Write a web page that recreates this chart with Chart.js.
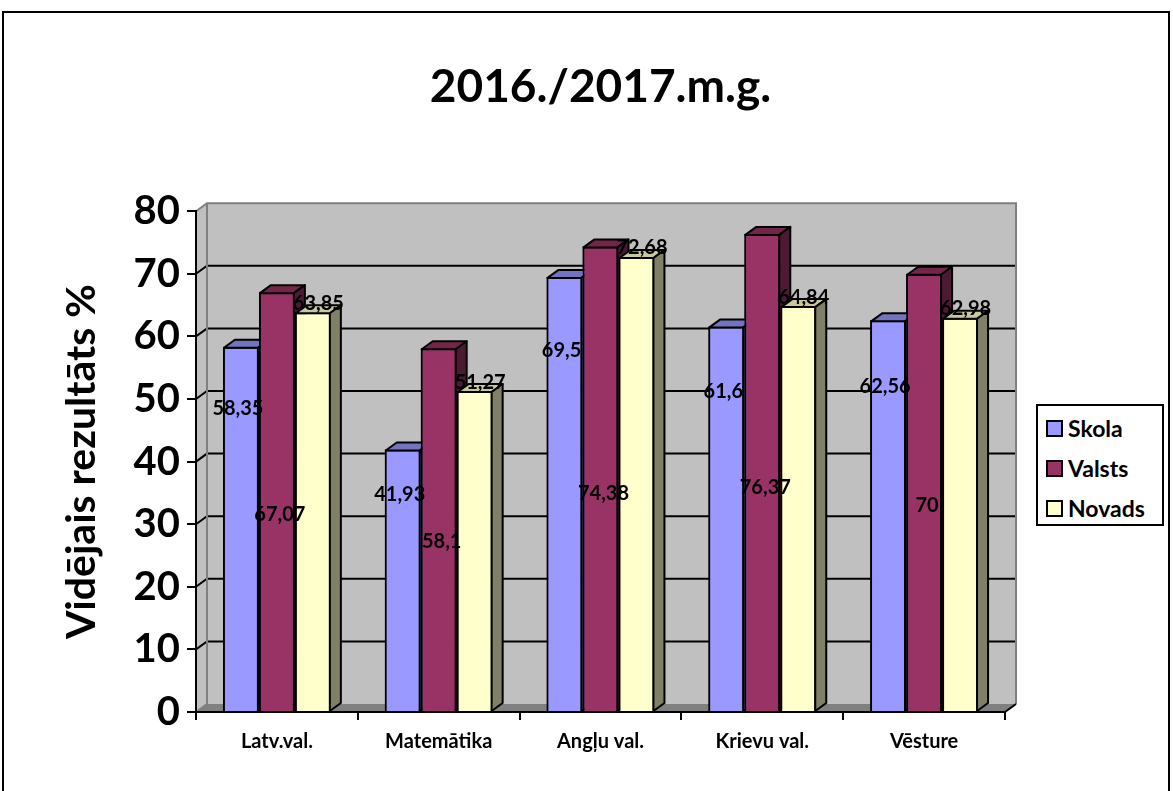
<!DOCTYPE html>
<html>
<head>
<meta charset="utf-8">
<title>2016./2017.m.g.</title>
<script src="https://cdn.jsdelivr.net/npm/chart.js@4.4.1/dist/chart.umd.min.js"></script>
<style>
    html, body { margin: 0; padding: 0; background: #fff; }
    body { width: 1173px; height: 791px; position: relative; overflow: hidden; font-family: Lato, sans-serif; }
    #frame  { position: absolute; left: 2px; top: 11px; width: 1164px; height: 800px; border: 2px solid #000; }
    #chart  { position: absolute; left: 0; top: 0; }
    #legend { position: absolute; left: 1036px; top: 404px; width: 124px; height: 118px; border: 2px solid #000; background: #fff; }
    .item   { position: absolute; left: 8px; height: 26px; display: flex; align-items: center; font-weight: bold; font-size: 23px; color: #000; }
    .sw     { width: 13px; height: 13px; border: 2px solid #000; margin-right: 5px; }
</style>
</head>
<body>
<div id="frame"></div>
<canvas id="chart" width="1173" height="791"></canvas>
<div id="legend"></div>

<script>
// ── Dati ─────────────────────────────────
const kategorijas = ['Latv.val.', 'Matemātika', 'Angļu val.', 'Krievu val.', 'Vēsture'];
const skola  = [58.35, 41.93, 69.5, 61.6, 62.56];
const valsts = [67.07, 58.1, 74.38, 76.37, 70];
const novads = [63.85, 51.27, 72.68, 64.84, 62.98];
const yMin = 0, yMax = 80, yStep = 10;

// 3D nobīde (px)
const DX = 11, DY = 8;

const serijas = [
    { label: 'Skola',  data: skola,  front: '#9999ff', top: '#7373bf', side: '#4d4d80' },
    { label: 'Valsts', data: valsts, front: '#993366', top: '#732649', side: '#4d1a33' },
    { label: 'Novads', data: novads, front: '#ffffcc', top: '#c8c89c', side: '#808066' }
];

function fmt(v) { return String(v).replace('.', ','); }

// ── Sienas, grīda un režģis ──────────────
const sienas = {
    id: 'sienas',
    beforeDraw(chart) {
        const { ctx, chartArea: a, scales: { y } } = chart;
        const L = a.left, R = a.right;
        const B = y.getPixelForValue(yMin), T = y.getPixelForValue(yMax);
        ctx.save();
        ctx.fillStyle = '#c0c0c0';
        ctx.fillRect(L + DX, T - DY, R - L, B - T);
        ctx.beginPath();
        ctx.moveTo(L, T); ctx.lineTo(L + DX, T - DY); ctx.lineTo(L + DX, B - DY); ctx.lineTo(L, B);
        ctx.closePath(); ctx.fill();

        ctx.fillStyle = '#808080';
        ctx.beginPath();
        ctx.moveTo(L, B); ctx.lineTo(L + DX, B - DY); ctx.lineTo(R + DX, B - DY); ctx.lineTo(R, B);
        ctx.closePath(); ctx.fill();

        ctx.strokeStyle = '#000';
        ctx.lineWidth = 2;
        for (let v = yMin + yStep; v < yMax; v += yStep) {
            const py = y.getPixelForValue(v);
            ctx.beginPath();
            ctx.moveTo(L, py); ctx.lineTo(L + DX, py - DY); ctx.lineTo(R + DX, py - DY);
            ctx.stroke();
        }

        ctx.strokeStyle = '#808080';
        ctx.beginPath();
        ctx.moveTo(L, T); ctx.lineTo(L + DX, T - DY); ctx.lineTo(R + DX, T - DY); ctx.lineTo(R + DX, B - DY);
        ctx.moveTo(L + DX, T - DY); ctx.lineTo(L + DX, B - DY);
        ctx.moveTo(L, B); ctx.lineTo(L + DX, B - DY);
        ctx.stroke();

        ctx.strokeStyle = '#000';
        ctx.beginPath();
        ctx.moveTo(R, B); ctx.lineTo(R + DX, B - DY);
        ctx.stroke();
        ctx.restore();
    }
};

// ── 3D stabiņi + vērtību etiķetes ────────
const kubi = {
    id: 'kubi',
    afterDatasetsDraw(chart) {
        const ctx = chart.ctx;
        // zīmē no kreisās uz labo, lai nākamā stabiņa priekšpuse aizsedz iepriekšējā sānu
        chart.data.datasets.forEach((ds, i) => {
            const s = serijas[i];
            chart.getDatasetMeta(i).data.forEach(el => {
                el.draw(ctx);
                const p = el.getProps(['x', 'y', 'base', 'width'], true);
                const x1 = p.x - p.width / 2 + 1, x2 = p.x + p.width / 2 - 1;
                const t = p.y + 1, b = p.base;
                ctx.save();
                ctx.lineWidth = 2;
                ctx.strokeStyle = '#000';
                ctx.lineJoin = 'round';
                ctx.fillStyle = s.top;
                ctx.beginPath();
                ctx.moveTo(x1, t); ctx.lineTo(x1 + DX, t - DY); ctx.lineTo(x2 + DX, t - DY); ctx.lineTo(x2, t);
                ctx.closePath(); ctx.fill(); ctx.stroke();
                ctx.fillStyle = s.side;
                ctx.beginPath();
                ctx.moveTo(x2, t); ctx.lineTo(x2 + DX, t - DY); ctx.lineTo(x2 + DX, b - DY); ctx.lineTo(x2, b);
                ctx.closePath(); ctx.fill(); ctx.stroke();
                ctx.restore();
            });
        });

        const y = chart.scales.y;
        ctx.save();
        ctx.font = 'bold 20px Lato';
        ctx.fillStyle = '#000';
        ctx.textAlign = 'center';
        ctx.textBaseline = 'middle';
        chart.data.datasets.forEach((ds, i) => {
            chart.getDatasetMeta(i).data.forEach((el, j) => {
                const v = ds.data[j];
                let lx = el.x, ly;
                if (i === 0)      { ly = y.getPixelForValue(v * 0.83); lx -= 3; }
                else if (i === 1) { ly = y.getPixelForValue(v * 0.47); lx += 3; }
                else              { ly = el.y - DY / 2 - 5; lx += DX / 2; }
                ctx.fillText(fmt(v), lx, ly);
            });
        });
        ctx.restore();
    }
};

Chart.defaults.font.family = 'Lato';
Chart.defaults.color = '#000';

new Chart(document.getElementById('chart'), {
    type: 'bar',
    data: {
        labels: kategorijas,
        datasets: serijas.map(s => ({
            label: s.label,
            data: s.data,
            backgroundColor: s.front,
            borderColor: '#000',
            borderWidth: 2,
            barPercentage: 1,
            categoryPercentage: 0.667
        }))
    },
    options: {
        responsive: false,
        animation: false,
        devicePixelRatio: 1,
        layout: { padding: { left: 0, right: 168, top: 0, bottom: 0 } },
        plugins: {
            legend: { display: false },
            tooltip: { enabled: false },
            title: {
                display: true,
                fullSize: false,
                text: '2016./2017.m.g.',
                color: '#000',
                font: { size: 46, weight: 'bold' },
                padding: { top: 60, bottom: 96 }
            }
        },
        scales: {
            x: {
                grid: { offset: true, drawOnChartArea: false, drawTicks: true, tickLength: 8, color: '#000', lineWidth: 2 },
                border: { display: true, color: '#000', width: 2 },
                ticks: { font: { size: 20, weight: 'bold' }, color: '#000', padding: 10, maxRotation: 0, autoSkip: false },
                afterFit(scale) { scale.height = 79; }
            },
            y: {
                min: yMin,
                max: yMax,
                grid: { drawOnChartArea: false, drawTicks: true, tickLength: 9, color: '#000', lineWidth: 2 },
                border: { display: true, color: '#000', width: 2 },
                ticks: { stepSize: yStep, font: { size: 40, weight: 'bold' }, color: '#000', padding: 7 },
                title: {
                    display: true,
                    text: 'Vidējais rezultāts %',
                    color: '#000',
                    font: { size: 41, weight: 'bold' },
                    padding: { top: 57, bottom: 0 }
                },
                afterFit(scale) { scale.width = 196; }
            }
        }
    },
    plugins: [sienas, kubi]
});

// ── Leģenda ──────────────────────────────
const legend = document.getElementById('legend');
serijas.forEach((s, i) => {
    const item = document.createElement('div');
    item.className = 'item';
    item.style.top = (9 + i * 40) + 'px';
    item.innerHTML = '<span class="sw" style="background:' + s.front + '"></span>' + s.label;
    legend.appendChild(item);
});
</script>
</body>
</html>
